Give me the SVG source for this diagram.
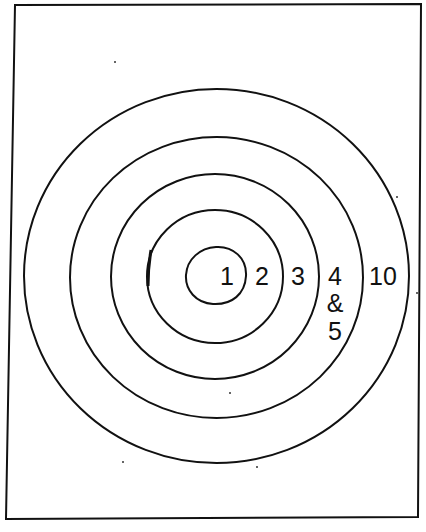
<svg xmlns="http://www.w3.org/2000/svg" width="426" height="532" viewBox="0 0 426 532">
<style>
.ring{fill:none;stroke:#111;stroke-width:2}
.lbl{font-family:"Liberation Sans",Arial,sans-serif;font-size:25px;fill:#111;text-anchor:middle}
.dot{fill:#333}
</style>
<rect width="426" height="532" fill="#fff"/>
<g id="frame">
<path d="M15,5 L421,4 L418,517 L6,519 Z" fill="none" stroke="#111" stroke-width="2"/>
</g>
<g id="rings">
<ellipse id="ring10" class="ring" cx="216.5" cy="276" rx="192.5" ry="187"/>
<ellipse id="ring4" class="ring" cx="216.5" cy="277.5" rx="146.5" ry="140.5"/>
<ellipse id="ring3" class="ring" cx="215" cy="276.5" rx="104" ry="102.5"/>
<ellipse id="ring2" class="ring" cx="215" cy="276.5" rx="68" ry="66.5"/>
<path id="ring1" class="ring" d="M216,247 C233,246 247,258 246,276 C245,294 232,305 213,304 C196,303 185,290 186,275 C187,259 200,248 216,247 Z"/>
<path d="M151,250 C149,262 148,272 148,286" fill="none" stroke="#111" stroke-width="3"/>
</g>
<g id="labels">
<text class="lbl" x="227" y="285">1</text>
<text class="lbl" x="262" y="285">2</text>
<text class="lbl" x="298" y="285">3</text>
<text class="lbl" x="335" y="285">4</text>
<text class="lbl" x="335" y="312">&amp;</text>
<text class="lbl" x="335" y="340">5</text>
<text class="lbl" x="383" y="285">10</text>
</g>
<g id="specks">
<circle class="dot" cx="115" cy="62" r="1"/>
<circle class="dot" cx="397" cy="197" r="1"/>
<circle class="dot" cx="417" cy="293" r="1"/>
<circle class="dot" cx="230" cy="393" r="1"/>
<circle class="dot" cx="123" cy="462" r="1"/>
<circle class="dot" cx="257" cy="467" r="1"/>
</g>
</svg>
